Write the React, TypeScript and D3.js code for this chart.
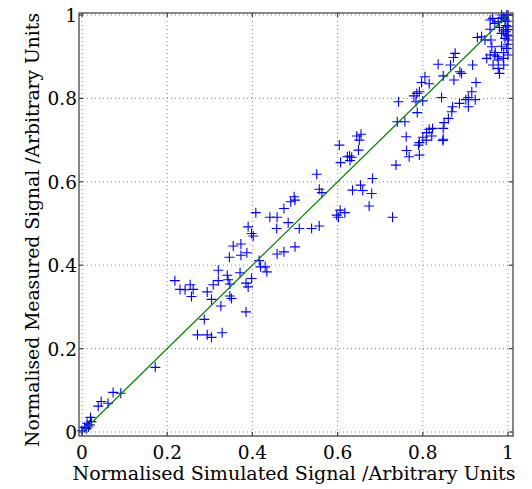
import React from "react";
import * as d3 from "d3";

const simulated: number[] = [
  0.172, 0.073, 0.091, 0.045, 0.038, 0.061, 0.02, 0.012, 0.018, 0.006, 0.0, 0.022, 0.01, 0.015,
  0.355, 0.373, 0.346, 0.373, 0.387, 0.416, 0.458, 0.474, 0.5, 0.32, 0.341, 0.371, 0.419, 0.434, 0.43,
  0.218, 0.23, 0.242, 0.254, 0.261, 0.257, 0.294, 0.308, 0.32, 0.347, 0.343, 0.385, 0.39, 0.398,
  0.304, 0.326, 0.347, 0.351, 0.385, 0.287, 0.271, 0.294, 0.304, 0.329,
  0.604, 0.651, 0.649, 0.628, 0.633, 0.623, 0.607, 0.629, 0.737, 0.551, 0.682, 0.654, 0.635, 0.659,
  0.68, 0.557, 0.563, 0.498, 0.5, 0.49, 0.474, 0.674, 0.606, 0.617, 0.598, 0.602, 0.729, 0.441, 0.458,
  0.484, 0.457, 0.51, 0.539, 0.557, 0.408, 0.39, 0.398, 0.402, 0.645, 0.655,
  0.836, 0.865, 0.917, 0.848, 0.887, 0.891, 0.873, 0.925, 0.805, 0.797, 0.815, 0.786, 0.792, 0.779,
  0.743, 0.784, 0.8, 0.844, 0.787, 0.74, 0.758, 0.761, 0.762, 0.768, 0.792, 0.915, 0.907, 0.901,
  0.923, 0.886, 0.907, 0.87, 0.868, 0.86, 0.85, 0.848, 0.815, 0.823, 0.809, 0.821, 0.8, 0.808, 0.792,
  0.848, 0.847, 0.79,
  0.964, 0.958, 0.969, 0.985, 0.997, 1.0, 0.993, 0.985, 0.977, 1.0, 0.989, 0.985, 0.997, 0.993, 1.0,
  0.958, 0.938, 0.928, 0.946, 0.876, 0.872, 0.962, 0.958, 0.95, 0.969, 0.977, 0.965, 0.977, 0.997,
  1.0, 0.989, 0.98, 0.99, 1.0, 0.97, 0.99, 1.0, 0.96, 0.995, 0.99, 1.0, 0.98,
  0.975, 0.995, 1.0, 0.985,
];

const measured: number[] = [
  0.155, 0.095, 0.093, 0.073, 0.062, 0.069, 0.035, 0.021, 0.017, 0.011, 0.003, 0.025, 0.008, 0.012,
  0.446, 0.451, 0.419, 0.424, 0.43, 0.411, 0.427, 0.432, 0.444, 0.388, 0.376, 0.382, 0.396, 0.384, 0.396,
  0.363, 0.342, 0.341, 0.353, 0.342, 0.325, 0.336, 0.353, 0.363, 0.355, 0.365, 0.357, 0.348, 0.368,
  0.318, 0.302, 0.326, 0.32, 0.288, 0.27, 0.233, 0.233, 0.227, 0.238,
  0.688, 0.7, 0.676, 0.662, 0.659, 0.66, 0.646, 0.651, 0.64, 0.618, 0.608, 0.592, 0.58, 0.579,
  0.572, 0.582, 0.574, 0.564, 0.556, 0.552, 0.536, 0.542, 0.532, 0.526, 0.52, 0.515, 0.515, 0.515, 0.515,
  0.502, 0.488, 0.488, 0.488, 0.494, 0.526, 0.492, 0.476, 0.47, 0.71, 0.714,
  0.882, 0.88, 0.88, 0.854, 0.864, 0.86, 0.844, 0.838, 0.852, 0.838, 0.835, 0.812, 0.816, 0.806,
  0.792, 0.792, 0.794, 0.802, 0.766, 0.744, 0.744, 0.708, 0.675, 0.66, 0.664, 0.816, 0.802, 0.797,
  0.797, 0.788, 0.78, 0.78, 0.768, 0.752, 0.742, 0.728, 0.726, 0.728, 0.718, 0.71, 0.707, 0.7, 0.694,
  0.702, 0.699, 0.688,
  0.992, 0.988, 0.98, 1.0, 1.0, 1.0, 0.988, 0.992, 0.984, 0.972, 0.964, 0.956, 0.952, 0.944, 0.94,
  0.966, 0.948, 0.946, 0.94, 0.908, 0.898, 0.924, 0.904, 0.896, 0.904, 0.892, 0.88, 0.872, 0.92,
  0.904, 0.896, 0.86, 0.88, 0.93, 0.91, 0.91, 0.95, 0.94, 0.975, 0.995, 0.985, 0.97,
  0.9, 0.96, 0.965, 0.925,
];

const tickValues: number[] = [0, 0.2, 0.4, 0.6, 0.8, 1];
const tickLabels: string[] = ["0", "0.2", "0.4", "0.6", "0.8", "1"];
const fitLine: [number, number][] = [[0, 0], [1, 1]];

const xTitle = "Normalised Simulated Signal /Arbitrary Units";
const yTitle = "Normalised Measured Signal /Arbitrary Units";

export default function App() {
  const W = 532, H = 489;
  const x = d3.scaleLinear().domain([0, 1]).range([82, 508]);
  const y = d3.scaleLinear().domain([0, 1]).range([432, 15]);
  const frame = { l: 79, r: 513, t: 13, b: 436 };
  const font = "'DejaVu Serif', serif";
  const line = d3.line<[number, number]>().x((d) => x(d[0])).y((d) => y(d[1]));
  const pts = simulated.map((s, i) => [s, measured[i]] as [number, number]);
  const m = 5;
  return (
    <svg width={W} height={H} style={{ position: "absolute", left: 0, top: 0 }} xmlns="http://www.w3.org/2000/svg">
      <rect x={0} y={0} width={W} height={H} fill="#fff" />
      {tickValues.map((t, i) => (
        <g key={"g" + i}>
          <line x1={x(t)} x2={x(t)} y1={frame.t} y2={frame.b} stroke="#888" strokeWidth={1} strokeDasharray="1,3" />
          <line x1={frame.l} x2={frame.r} y1={y(t)} y2={y(t)} stroke="#888" strokeWidth={1} strokeDasharray="1,3" />
        </g>
      ))}
      <g stroke="#0000ff" strokeWidth={1.1} fill="none">
        {pts.map((p, i) => (
          <path key={"p" + i} d={`M${x(p[0]) - m},${y(p[1])}H${x(p[0]) + m}M${x(p[0])},${y(p[1]) - m}V${y(p[1]) + m}`} />
        ))}
      </g>
      <path d={line(fitLine) || ""} stroke="#008000" strokeWidth={1.2} fill="none" />
      <rect x={frame.l} y={frame.t} width={frame.r - frame.l} height={frame.b - frame.t} fill="none" stroke="#444" strokeWidth={1.3} />
      {tickValues.map((t, i) => (
        <g key={"t" + i} stroke="#444" strokeWidth={1.2}>
          <line x1={x(t)} x2={x(t)} y1={frame.b} y2={frame.b - 4} />
          <line x1={x(t)} x2={x(t)} y1={frame.t} y2={frame.t + 4} />
          <line x1={frame.l} x2={frame.l + 4} y1={y(t)} y2={y(t)} />
          <line x1={frame.r} x2={frame.r - 4} y1={y(t)} y2={y(t)} />
        </g>
      ))}
      {tickValues.map((t, i) => (
        <text key={"xl" + i} x={x(t)} y={459} textAnchor="middle" fontFamily={font} fontSize={18.5} fill="#000">
          {tickLabels[i]}
        </text>
      ))}
      {tickValues.map((t, i) => (
        <text key={"yl" + i} x={77} y={y(t) + 7} textAnchor="end" fontFamily={font} fontSize={18.5} fill="#000">
          {tickLabels[i]}
        </text>
      ))}
      <text x={294} y={480} textAnchor="middle" fontFamily={font} fontSize={18} fill="#000" textLength={443} lengthAdjust="spacingAndGlyphs">
        {xTitle}
      </text>
      <text transform={`translate(39,230) rotate(-90)`} textAnchor="middle" fontFamily={font} fontSize={18} fill="#000" textLength={434} lengthAdjust="spacingAndGlyphs">
        {yTitle}
      </text>
    </svg>
  );
}
